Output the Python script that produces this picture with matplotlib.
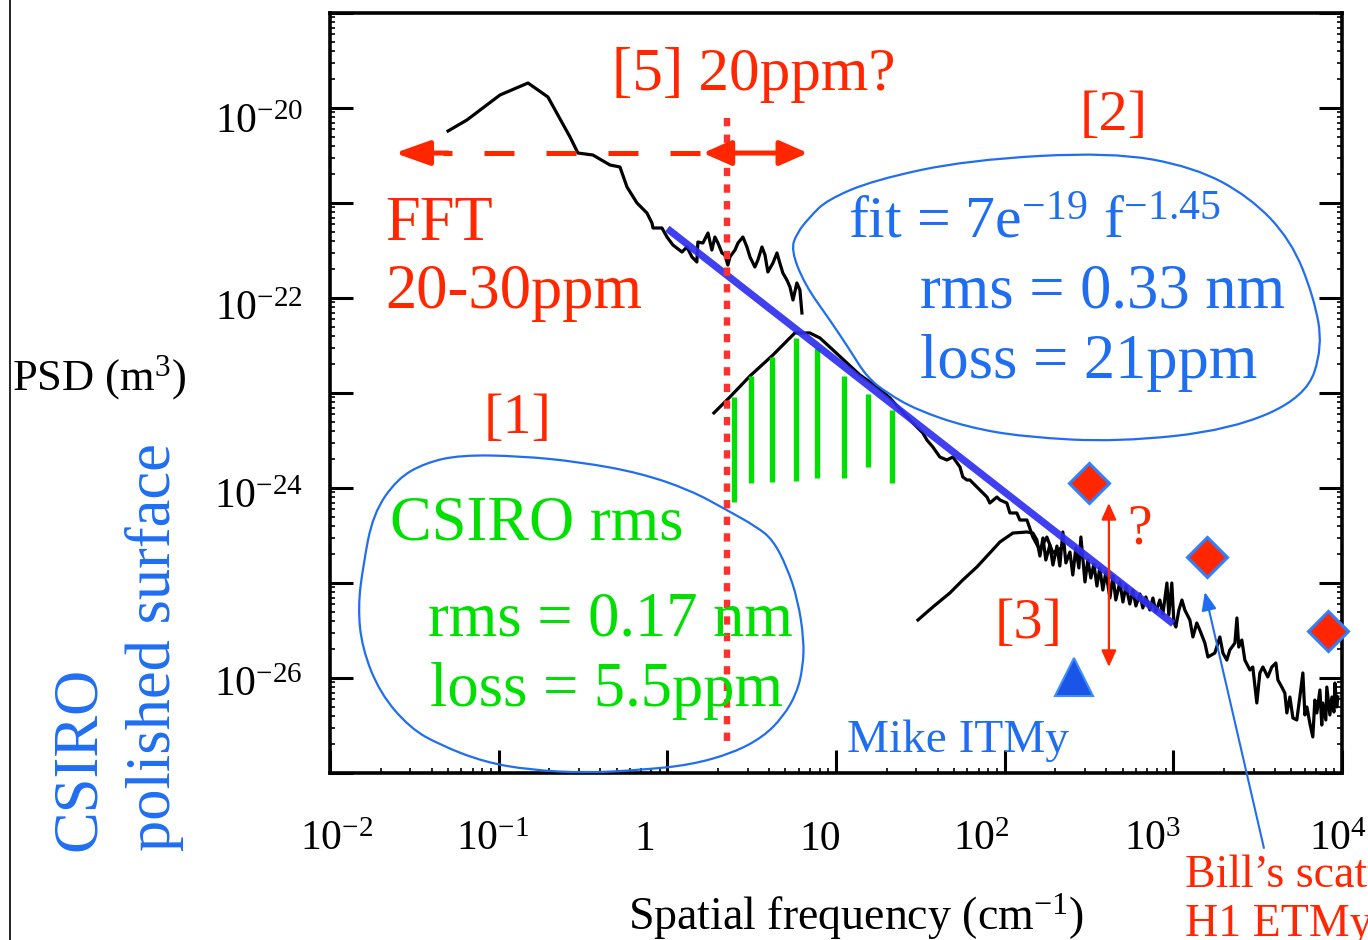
import numpy as np
import matplotlib
matplotlib.use("Agg")
import matplotlib.pyplot as plt
import matplotlib.transforms as mtransforms
import matplotlib.patches as mpatches
from matplotlib.path import Path
from matplotlib.lines import Line2D
from matplotlib.ticker import LogLocator, NullFormatter, FixedLocator

plt.rcParams['font.family'] = ['Liberation Serif', 'DejaVu Serif']
plt.rcParams['mathtext.fontset'] = 'custom'
plt.rcParams['mathtext.rm'] = 'Liberation Serif'
plt.rcParams['mathtext.it'] = 'Liberation Serif:italic'
plt.rcParams['mathtext.bf'] = 'Liberation Serif:bold'

# ---------------- data: log10 values ----------------
# low-frequency PSD (FFT of map)
low_logf = [-1.30, -1.188, -0.992, -0.826, -0.708, -0.649, -0.577, -0.530, -0.441, -0.340,
            -0.281, -0.239, -0.180, -0.121, -0.091, -0.085, -0.032, -0.002, 0.033, 0.087,
            0.116, 0.146, 0.175, 0.181, 0.211, 0.241, 0.264, 0.282, 0.300, 0.324,
            0.341, 0.359, 0.371, 0.401, 0.419, 0.448, 0.472, 0.490, 0.519, 0.537,
            0.561, 0.579, 0.596, 0.626, 0.650, 0.667, 0.685, 0.709, 0.727, 0.745,
            0.768, 0.786, 0.798]
low_logpsd = [-20.242, -20.126, -19.863, -19.737, -19.884, -20.074, -20.305, -20.474, -20.495, -20.600,
              -20.621, -20.832, -21.000, -21.105, -21.211, -21.263, -21.263, -21.358, -21.442, -21.516,
              -21.463, -21.568, -21.621, -21.411, -21.421, -21.316, -21.495, -21.358, -21.421, -21.526,
              -21.547, -21.653, -21.568, -21.495, -21.421, -21.358, -21.463, -21.568, -21.674, -21.600,
              -21.463, -21.547, -21.726, -21.632, -21.526, -21.632, -21.737, -21.811, -21.884, -22.021,
              -21.842, -21.916, -22.158]

# mid-frequency PSD
mid_logf = [0.276, 0.371, 0.490, 0.626, 0.756, 0.845, 0.905, 0.982, 1.065, 1.142,
            1.243, 1.320, 1.438, 1.515, 1.539, 1.574, 1.616, 1.657, 1.693, 1.735,
            1.752, 1.776, 1.794, 1.835, 1.895, 1.912, 1.954, 1.972, 2.013, 2.031,
            2.072, 2.090, 2.132, 2.167, 2.209, 2.250, 2.286, 2.345]
mid_logpsd = [-23.210, -23.042, -22.821, -22.600, -22.368, -22.368, -22.421, -22.547, -22.684, -22.811,
              -22.937, -23.053, -23.284, -23.421, -23.495, -23.568, -23.674, -23.705, -23.674, -23.779,
              -23.884, -23.916, -23.916, -23.989, -24.095, -24.158, -24.095, -24.126, -24.158, -24.263,
              -24.263, -24.337, -24.337, -24.516, -24.653, -24.516, -24.684, -24.621]

# high-frequency PSD
high_logf = [1.486, 1.574, 1.675, 1.752, 1.835, 1.912, 1.972, 2.049, 2.132, 2.167,
             2.191, 2.209, 2.227, 2.244, 2.268, 2.286, 2.310, 2.327, 2.345, 2.363,
             2.387, 2.404, 2.422, 2.440, 2.452, 2.476, 2.493, 2.511, 2.529, 2.547,
             2.564, 2.582, 2.600, 2.624, 2.642, 2.659, 2.683, 2.701, 2.719, 2.742,
             2.760, 2.778, 2.802, 2.819, 2.837, 2.861, 2.879, 2.896, 2.920, 2.938,
             2.962, 2.973, 2.991, 3.003, 3.015, 3.033, 3.051, 3.068, 3.098, 3.116,
             3.139, 3.157, 3.187, 3.205, 3.246, 3.276, 3.294, 3.317, 3.335, 3.365,
             3.377, 3.388, 3.406, 3.424, 3.454, 3.471, 3.495, 3.513, 3.531, 3.560,
             3.584, 3.608, 3.620, 3.643, 3.661, 3.673, 3.691, 3.709, 3.732, 3.750,
             3.768, 3.780, 3.792, 3.809, 3.827, 3.839, 3.851, 3.869, 3.880, 3.886,
             3.904, 3.910, 3.928, 3.940, 3.952, 3.958, 3.969, 3.975]
high_logpsd = [-25.389, -25.253, -25.105, -24.968, -24.832, -24.684, -24.568, -24.474, -24.463, -24.474,
               -24.547, -24.716, -24.526, -24.758, -24.600, -24.811, -24.611, -24.821, -24.463, -24.789,
               -24.674, -24.916, -24.632, -24.842, -24.516, -24.989, -24.758, -24.947, -24.800, -25.032,
               -24.842, -25.074, -24.884, -25.158, -24.926, -25.179, -24.989, -25.200, -25.032, -25.221,
               -25.074, -25.242, -25.116, -25.263, -25.147, -25.284, -25.158, -25.305, -25.179, -25.326,
               -25.000, -25.337, -25.000, -25.411, -25.463, -25.284, -25.179, -25.284, -25.389, -25.568,
               -25.421, -25.495, -25.632, -25.779, -25.737, -25.568, -25.737, -25.811, -25.705, -25.632,
               -25.368, -25.674, -25.600, -25.811, -25.916, -25.884, -26.263, -25.947, -25.884, -25.989,
               -25.884, -25.842, -26.021, -26.095, -26.158, -26.368, -26.200, -26.421, -26.442, -26.200,
               -25.947, -26.389, -26.305, -26.474, -26.621, -26.232, -26.368, -26.126, -26.495, -26.263,
               -26.442, -26.095, -26.389, -26.200, -26.358, -26.053, -26.305, -26.200]

# power-law fit line (end points)
fit_logf = [0.0, 3.0]
fit_logpsd = [-21.27, -25.43]

# CSIRO rms bars
bar_logf = [0.395, 0.496, 0.620, 0.762, 0.887, 1.047, 1.189, 1.331]
bar_logtop = [-23.042, -22.821, -22.621, -22.421, -22.526, -22.821, -23.011, -23.179]
bar_logbot = [-24.147, -23.947, -23.937, -23.926, -23.895, -23.895, -23.779, -23.947]

# Bill's scatterometer points (H1 ETMy) and Mike ITMy point
scat_logf = [2.499, 3.199, 3.916]
scat_logpsd = [-23.947, -24.726, -25.505]
itm_logf = [2.410]
itm_logpsd = [-25.989]

# FFT cut-off frequency
cut_logf = 0.353

# tick labels
xtick_exp = [-2, -1, 0, 1, 2, 3, 4]
xtick_labels = [r'$\mathregular{10^{-2}}$', r'$\mathregular{10^{-1}}$', '1', '10',
                r'$\mathregular{10^{2}}$', r'$\mathregular{10^{3}}$', r'$\mathregular{10^{4}}$']
ytick_exp = [-20, -22, -24, -26]
ytick_labels = [r'$\mathregular{10^{-20}}$', r'$\mathregular{10^{-22}}$',
                r'$\mathregular{10^{-24}}$', r'$\mathregular{10^{-26}}$']

# annotation outlines (log10 coordinates)
blob1_logf = [-1.229, -0.874, -0.518, -0.162, 0.134, 0.353, 0.531, 0.626, 0.709, 0.774,
              0.810, 0.804, 0.768, 0.685, 0.567, 0.389, 0.134, -0.162, -0.483, -0.815,
              -1.087, -1.348, -1.526, -1.704, -1.810, -1.834, -1.804, -1.745, -1.603, -1.437]
blob1_logpsd = [-23.653, -23.663, -23.726, -23.842, -24.021, -24.232, -24.410, -24.547, -24.832, -25.179,
                -25.600, -25.884, -26.158, -26.411, -26.621, -26.789, -26.916, -26.968, -27.000, -26.968,
                -26.884, -26.705, -26.526, -26.158, -25.684, -25.253, -24.821, -24.274, -23.905, -23.737]
blob2_logf = [2.630, 3.122, 3.454, 3.697, 3.833, 3.886, 3.786, 3.341, 2.671, 2.114,
              1.776, 1.480, 1.302, 1.183, 1.082, 0.964, 0.816, 0.733, 0.768, 0.845,
              0.946, 1.225, 1.782]
blob2_logpsd = [-20.463, -20.621, -20.937, -21.389, -21.989, -22.516, -23.042, -23.389, -23.516, -23.463,
                -23.358, -23.179, -23.000, -22.832, -22.547, -22.232, -21.863, -21.495, -21.316, -21.147,
                -20.968, -20.758, -20.547]

# ---------------- styles ----------------
RED = '#ff2600'
RED_DOT = '#ff3030'
GREEN = '#00e000'
BLUE = '#1f6ef2'
BLUE_FIT = '#3030f0'

W, H = 1368, 940
fig = plt.figure(figsize=(W / 100, H / 100), dpi=100)
ax = fig.add_axes([330 / W, 1 - 773 / H, 1012 / W, 760 / H])
ax.set_xscale('log')
ax.set_yscale('log')
ax.set_xlim(1e-2, 1e4)
ax.set_ylim(1e-27, 1e-19)

ax.xaxis.set_major_locator(FixedLocator([10.0 ** k for k in range(-2, 5)]))
ax.xaxis.set_minor_locator(LogLocator(base=10, subs=np.arange(2, 10), numticks=60))
ax.yaxis.set_major_locator(FixedLocator([10.0 ** k for k in range(-27, -18)]))
ax.yaxis.set_minor_locator(LogLocator(base=10, subs=np.arange(2, 10), numticks=60))
for a in (ax.xaxis, ax.yaxis):
    a.set_major_formatter(NullFormatter())
    a.set_minor_formatter(NullFormatter())
ax.tick_params(which='major', direction='in', length=16.5, width=2.2, top=False, right=True)
ax.tick_params(which='minor', direction='in', length=3.5, width=1.2, top=False, right=True)
for s in ax.spines.values():
    s.set_linewidth(2.6)

# tick labels (the scanned axis has them slightly shifted)
xoff_px = [7, -6, -23, -16, -23, -21, -4]
for e, lab, dx in zip(xtick_exp, xtick_labels, xoff_px):
    tr = (mtransforms.blended_transform_factory(ax.transData, ax.transAxes)
          + mtransforms.ScaledTranslation(dx / 100, -77 / 100, fig.dpi_scale_trans))
    ax.text(10.0 ** e, 0, lab, transform=tr, ha='center', va='baseline', fontsize=30, clip_on=False)
yoff_px = [25, 22, 20, 18]
for e, lab, dy in zip(ytick_exp, ytick_labels, yoff_px):
    tr = (mtransforms.blended_transform_factory(ax.transAxes, ax.transData)
          + mtransforms.ScaledTranslation(-27 / 100, -dy / 100, fig.dpi_scale_trans))
    ax.text(0, 10.0 ** e, lab, transform=tr, ha='right', va='baseline', fontsize=30, clip_on=False)

# ---------------- curves ----------------
p = lambda v: 10.0 ** np.asarray(v)
ax.plot(p(low_logf), p(low_logpsd), color='black', lw=2.3, zorder=2)
ax.plot(p(mid_logf), p(mid_logpsd), color='black', lw=2.3, zorder=2)
ax.plot(p(high_logf), p(high_logpsd), color='black', lw=2.3, zorder=2)
ax.vlines(p(bar_logf), p(bar_logbot), p(bar_logtop), color=GREEN, lw=3.8, zorder=2.5)
ax.plot(p(fit_logf), p(fit_logpsd), color=BLUE_FIT, lw=5.2, alpha=0.92,
        solid_capstyle='butt', zorder=3)


def smooth_closed(lx, ly):
    lx = np.asarray(lx, float)
    ly = np.asarray(ly, float)
    mx = (lx + np.roll(lx, -1)) / 2
    my = (ly + np.roll(ly, -1)) / 2
    verts = [(mx[-1], my[-1])]
    codes = [Path.MOVETO]
    for i in range(len(lx)):
        verts += [(lx[i], ly[i]), (mx[i], my[i])]
        codes += [Path.CURVE3, Path.CURVE3]
    return Path(10.0 ** np.array(verts), codes)


for bx, by in ((blob1_logf, blob1_logpsd), (blob2_logf, blob2_logpsd)):
    patch = mpatches.PathPatch(smooth_closed(bx, by), fill=False, edgecolor=BLUE,
                               lw=1.6, zorder=4, clip_on=False)
    ax.add_patch(patch)

# FFT cut-off dotted line
ax.plot([10 ** cut_logf] * 2, [10 ** -20.105, 10 ** -26.705], color=RED_DOT, lw=4.6,
        ls=(0, (1.3, 1.3)), dash_capstyle='butt', zorder=5)


def arrow(p0, p1, style, lw, color, hl, hw, z=5):
    a = mpatches.FancyArrowPatch((10 ** p0[0], 10 ** p0[1]), (10 ** p1[0], 10 ** p1[1]),
                                 arrowstyle=mpatches.ArrowStyle(style, head_length=hl, head_width=hw),
                                 mutation_scale=1, lw=lw, color=color, shrinkA=0, shrinkB=0,
                                 zorder=z, clip_on=False)
    ax.add_patch(a)


# FFT range arrow (dashed to the left)
ax.plot([10 ** 0.193, 10 ** -1.33], [10 ** -20.474] * 2, color=RED, lw=3.6,
        ls=(0, (6, 6.4)), dash_capstyle='butt', zorder=5)
arrow((-1.30, -20.474), (-1.615, -20.474), '-|>', 3.6, RED, 21, 7.5)
arrow((0.211, -20.474), (0.833, -20.474), '<|-|>', 3.6, RED, 17, 7.5)
# uncertainty arrow
arrow((2.618, -24.158), (2.618, -25.884), '<|-|>', 1.6, RED, 10, 4.5)
# pointer to scatterometer label
arrow((3.537, -27.789), (3.187, -25.095), '-|>', 1.5, BLUE, 11, 4.5, z=6)

# markers
ax.plot(p(scat_logf), p(scat_logpsd), 'D', ms=20, mfc=RED, mec='#2f80ff', mew=2.2,
        clip_on=False, zorder=7, ls='none')
ax.plot(p(itm_logf), p(itm_logpsd), '^', ms=27, mfc='#1a55e8', mec='#3b8cff', mew=1.5,
        clip_on=False, zorder=7, ls='none')

# ---------------- texts ----------------
fx = lambda x: x / W
fy = lambda y: 1 - y / H


def t(x, y, s, color, size, **kw):
    fig.text(fx(x), fy(y), s, color=color, fontsize=size, ha='left', va='baseline', **kw)


t(612, 90, '[5] 20ppm?', RED, 44)
t(1080, 130, '[2]', RED, 42)
t(385, 240, 'FFT', RED, 45)
t(385, 308, '20-30ppm', RED, 45)
t(484, 433, '[1]', RED, 42)
t(390, 540, 'CSIRO rms', GREEN, 45)
t(428, 635, 'rms = 0.17 nm', GREEN, 45)
t(430, 706, 'loss = 5.5ppm', GREEN, 45)
t(848, 238, r'fit = 7e$\mathregular{^{-19}}$ f$\mathregular{^{-1.45}}$', BLUE, 43)
t(920, 308, 'rms = 0.33 nm', BLUE, 45)
t(920, 378, 'loss = 21ppm', BLUE, 45)
t(995, 638, '[3]', RED, 42)
t(1127, 543, '?', RED, 40)
t(847, 752, 'Mike ITMy', BLUE, 34)
t(1185, 887, 'Bill\u2019s scatterometer', RED, 33)
t(1185, 936, 'H1 ETMy', RED, 33)
t(628, 930, r'Spatial frequency (cm$\mathregular{^{-1}}$)', 'black', 33)
t(12, 390, r'PSD (m$\mathregular{^{3}}$)', 'black', 32)
fig.text(fx(95), fy(851), 'CSIRO', color=BLUE, fontsize=45, rotation=90,
         rotation_mode='anchor', ha='left', va='baseline')
fig.text(fx(170), fy(851), 'polished surface', color=BLUE, fontsize=45, rotation=90,
         rotation_mode='anchor', ha='left', va='baseline')

# left frame line of the slide
fig.add_artist(Line2D([10 / W, 10 / W], [0, 1], color='black', lw=1.2, transform=fig.transFigure))

fig.savefig('out.png', dpi=100)
